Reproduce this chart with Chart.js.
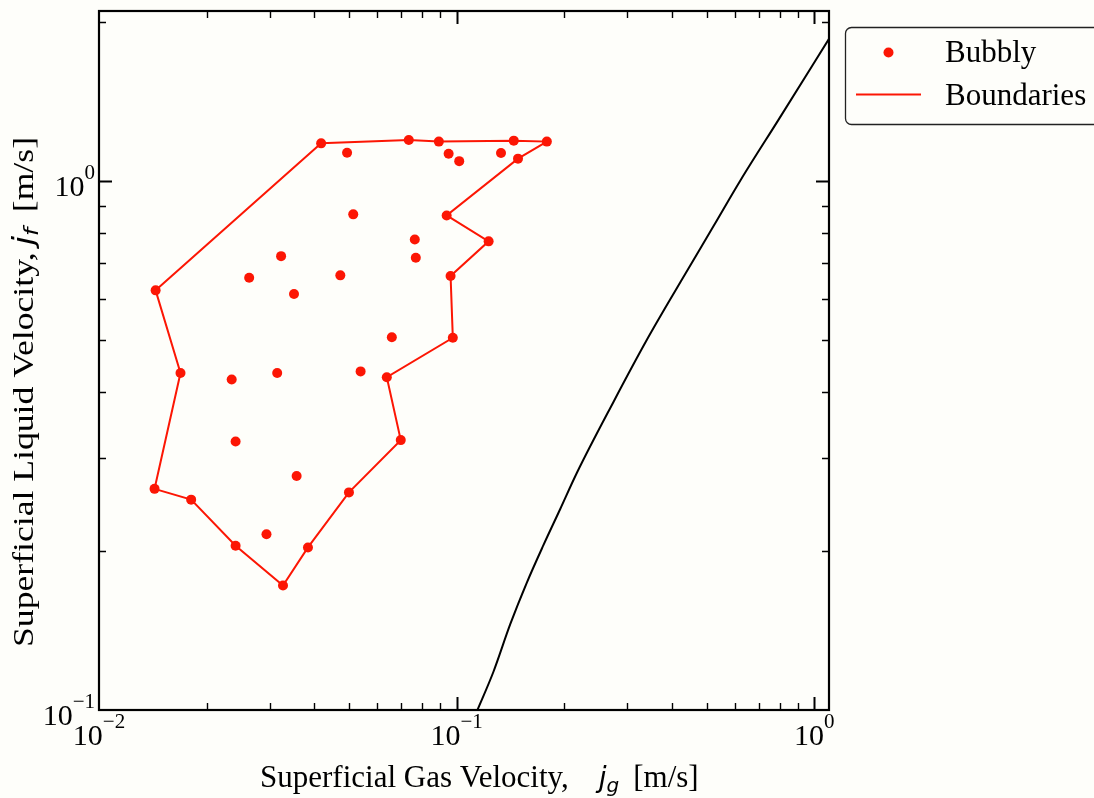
<!DOCTYPE html>
<html>
<head>
<meta charset="utf-8">
<script src="https://cdn.jsdelivr.net/npm/chart.js@4.4.1/dist/chart.umd.min.js"></script>
<style>
  html, body { margin: 0; padding: 0; background: #fefefa; }
  canvas { display: block; }
</style>
</head>
<body>
<canvas id="chart" width="1094" height="798" style="width:1094px;height:798px"></canvas>
<script>
// Vertices of the bubbly-flow boundary, in drawing order (closed in code)
const boundaryJg = [0.0144, 0.0418, 0.0735, 0.0892, 0.1445, 0.1788, 0.1485, 0.0938, 0.1229, 0.0962,
                    0.0976, 0.0638, 0.0698, 0.0500, 0.0384, 0.0327, 0.0241, 0.0181, 0.0143, 0.0169];
const boundaryJf = [0.622, 1.180, 1.197, 1.189, 1.194, 1.189, 1.104, 0.862, 0.770, 0.662,
                    0.506, 0.426, 0.324, 0.258, 0.203, 0.172, 0.2045, 0.250, 0.262, 0.434];

// Bubbly-flow observations inside the boundary
const interiorJg = [0.0494, 0.0514, 0.0323, 0.0263, 0.0473, 0.0351, 0.0950, 0.1017, 0.1331,
                    0.0764, 0.0769, 0.0659, 0.0539, 0.0235, 0.0315, 0.0241, 0.0357, 0.0294];
const interiorJf = [1.133, 0.866, 0.722, 0.657, 0.664, 0.612, 1.128, 1.092, 1.131,
                    0.776, 0.717, 0.507, 0.437, 0.422, 0.434, 0.322, 0.277, 0.215];

// Bubbly-to-slug transition line
const transitionJg = [0.1140, 0.1267, 0.1411, 0.1571, 0.1749, 0.1949, 0.2170, 0.2748,
                      0.3408, 0.4227, 0.5241, 0.6223, 0.796, 1.10];
const transitionJf = [0.0995, 0.1180, 0.1450, 0.1740, 0.2050, 0.2400, 0.2810, 0.3830,
                      0.5020, 0.6450, 0.8250, 1.0050, 1.31, 1.86];

// Axis limits and decade labels (exponents of 10)
const xLimits = [0.01, 1.1];
const yLimits = [0.1, 2.1];
const xDecadeExps = [-2, -1, 0];
const yDecadeExps = [-1, 0];

const seriesLabels = ['Bubbly', 'Boundaries'];
const xTitle = 'Superficial Gas Velocity,';
const yTitle = 'Superficial Liquid Velocity,';
const unitText = '[m/s]';

const RED = 'rgb(252,22,4)';
const BG = '#fefefa';
const SERIF = '"Liberation Serif", "Times New Roman", serif';
const MATH = '"DejaVu Sans", sans-serif';

const toPts = (xs, ys) => xs.map((x, i) => ({ x, y: ys[i] }));
const boundaryPts = toPts(boundaryJg, boundaryJf);
boundaryPts.push({ ...boundaryPts[0] });
const bubblyPts = toPts(boundaryJg, boundaryJf).concat(toPts(interiorJg, interiorJf));
const transitionPts = toPts(transitionJg, transitionJf);

function logTicks(min, max) {
  const out = [];
  const e0 = Math.floor(Math.log10(min)), e1 = Math.ceil(Math.log10(max));
  for (let e = e0; e <= e1; e++) {
    for (let m = 1; m <= 9; m++) {
      const v = m * Math.pow(10, e);
      if (v >= min * 0.9999 && v <= max * 1.0001) out.push({ v, major: m === 1 });
    }
  }
  return out;
}

function powerLabel(ctx, exp, x, baseY, align) {
  const base = '10';
  const sup = exp < 0 ? '\u2212' + Math.abs(exp) : String(exp);
  ctx.font = '30px ' + SERIF;
  const wb = ctx.measureText(base).width;
  ctx.font = '21px ' + SERIF;
  const ws = ctx.measureText(sup).width;
  const total = wb + ws;
  const x0 = align === 'center' ? x - total / 2 : x - total;
  ctx.textAlign = 'left';
  ctx.textBaseline = 'alphabetic';
  ctx.fillStyle = '#000';
  ctx.font = '30px ' + SERIF;
  ctx.fillText(base, x0, baseY);
  ctx.font = '21px ' + SERIF;
  ctx.fillText(sup, x0 + wb, baseY - 17);
}

// Width of a run of text pieces
function runWidth(ctx, pieces) {
  let w = 0;
  for (const p of pieces) {
    ctx.font = p.font;
    w += (p.gap || 0) + ctx.measureText(p.text).width;
  }
  return w;
}

// Draws a run of text pieces left-to-right along the current baseline
function textRun(ctx, pieces) {
  let x = 0;
  for (const p of pieces) {
    x += p.gap || 0;
    ctx.font = p.font;
    ctx.fillText(p.text, x, p.dy || 0);
    x += ctx.measureText(p.text).width;
  }
}

const axesPlugin = {
  id: 'axesFrame',
  beforeDraw(chart) {
    const { ctx, width, height } = chart;
    ctx.save();
    ctx.fillStyle = BG;
    ctx.fillRect(0, 0, width, height);
    ctx.restore();
  },
  afterDraw(chart) {
    const { ctx, chartArea: a } = chart;
    const xs = chart.scales.x, ys = chart.scales.y;
    ctx.save();
    ctx.strokeStyle = '#000';
    ctx.lineCap = 'butt';

    // inward ticks on all four sides
    for (const t of logTicks(xLimits[0], xLimits[1])) {
      const px = Math.round(xs.getPixelForValue(t.v)) + 0.5;
      if (px <= a.left + 1 || px >= a.right - 1) continue;
      const len = t.major ? 13 : 7;
      ctx.lineWidth = t.major ? 2 : 1.4;
      ctx.beginPath();
      ctx.moveTo(px, a.bottom); ctx.lineTo(px, a.bottom - len);
      ctx.moveTo(px, a.top); ctx.lineTo(px, a.top + len);
      ctx.stroke();
    }
    for (const t of logTicks(yLimits[0], yLimits[1])) {
      const py = Math.round(ys.getPixelForValue(t.v)) + 0.5;
      if (py <= a.top + 1 || py >= a.bottom - 1) continue;
      const len = t.major ? 13 : 7;
      ctx.lineWidth = t.major ? 2 : 1.4;
      ctx.beginPath();
      ctx.moveTo(a.left, py); ctx.lineTo(a.left + len, py);
      ctx.moveTo(a.right, py); ctx.lineTo(a.right - len, py);
      ctx.stroke();
    }

    // frame
    ctx.lineWidth = 2.2;
    ctx.strokeRect(a.left, a.top, a.right - a.left, a.bottom - a.top);

    // decade labels
    for (const e of xDecadeExps) {
      const px = xs.getPixelForValue(Math.pow(10, e));
      powerLabel(ctx, e, px, a.bottom + 35, 'center');
    }
    for (const e of yDecadeExps) {
      const py = ys.getPixelForValue(Math.pow(10, e));
      powerLabel(ctx, e, a.left - 4, py + 15, 'right');
    }

    // axis titles
    ctx.fillStyle = '#000';
    ctx.textAlign = 'left';
    ctx.textBaseline = 'alphabetic';
    ctx.save();
    ctx.translate(260, 787);
    textRun(ctx, [
      { text: xTitle, font: '31px ' + SERIF },
      { text: 'j', font: 'italic 28px ' + MATH, gap: 30 },
      { text: 'g', font: 'italic 20px ' + MATH, dy: 5 },
      { text: unitText, font: '31px ' + SERIF, gap: 14 }
    ]);
    ctx.restore();

    // vertical title, fitted to run from y=647 up to y=137
    const yPieces = [
      { text: yTitle, font: '30px ' + SERIF },
      { text: 'j', font: 'italic 28px ' + MATH, gap: 6 },
      { text: 'f', font: 'italic 20px ' + MATH, dy: 5 },
      { text: unitText, font: '30px ' + SERIF, gap: 13 }
    ];
    const yLen = runWidth(ctx, yPieces);
    ctx.save();
    ctx.translate(33, 647);
    ctx.rotate(-Math.PI / 2);
    ctx.scale(510 / yLen, 1);
    textRun(ctx, yPieces);
    ctx.restore();

    // legend
    const lx = 845.5, ly = 27.5, lw = 270, lh = 97, r = 6;
    ctx.beginPath();
    ctx.moveTo(lx + r, ly);
    ctx.lineTo(lx + lw - r, ly);
    ctx.arcTo(lx + lw, ly, lx + lw, ly + r, r);
    ctx.lineTo(lx + lw, ly + lh - r);
    ctx.arcTo(lx + lw, ly + lh, lx + lw - r, ly + lh, r);
    ctx.lineTo(lx + r, ly + lh);
    ctx.arcTo(lx, ly + lh, lx, ly + lh - r, r);
    ctx.lineTo(lx, ly + r);
    ctx.arcTo(lx, ly, lx + r, ly, r);
    ctx.closePath();
    ctx.fillStyle = BG;
    ctx.fill();
    ctx.strokeStyle = '#222';
    ctx.lineWidth = 1.3;
    ctx.stroke();

    const ds = chart.data.datasets;
    ctx.fillStyle = ds[0].pointBackgroundColor;
    ctx.beginPath();
    ctx.arc(888.5, 52.5, ds[0].pointRadius, 0, Math.PI * 2);
    ctx.fill();
    ctx.strokeStyle = ds[1].borderColor;
    ctx.lineWidth = ds[1].borderWidth;
    ctx.beginPath();
    ctx.moveTo(856, 94.5); ctx.lineTo(921, 94.5);
    ctx.stroke();
    ctx.fillStyle = '#000';
    ctx.font = '31px ' + SERIF;
    ctx.fillText(ds[0].label, 945, 62);
    ctx.fillText(ds[1].label, 945, 105);
    ctx.restore();
  }
};

new Chart(document.getElementById('chart').getContext('2d'), {
  type: 'scatter',
  data: {
    datasets: [
      {
        label: seriesLabels[0],
        data: bubblyPts,
        showLine: false,
        pointRadius: 5,
        pointBackgroundColor: RED,
        pointBorderColor: RED,
        pointBorderWidth: 0,
        pointHoverRadius: 5
      },
      {
        label: seriesLabels[1],
        data: boundaryPts,
        showLine: true,
        borderColor: RED,
        borderWidth: 2,
        pointRadius: 0,
        pointHoverRadius: 0,
        tension: 0
      },
      {
        label: '',
        data: transitionPts,
        showLine: true,
        borderColor: '#000',
        borderWidth: 2,
        pointRadius: 0,
        pointHoverRadius: 0,
        cubicInterpolationMode: 'monotone'
      }
    ]
  },
  options: {
    responsive: false,
    devicePixelRatio: 1,
    animation: false,
    events: [],
    layout: { padding: { left: 99, top: 11, right: 265, bottom: 88 } },
    scales: {
      x: { type: 'logarithmic', min: xLimits[0], max: xLimits[1], display: false },
      y: { type: 'logarithmic', min: yLimits[0], max: yLimits[1], display: false }
    },
    plugins: { legend: { display: false }, tooltip: { enabled: false } }
  },
  plugins: [axesPlugin]
});
</script>
</body>
</html>
